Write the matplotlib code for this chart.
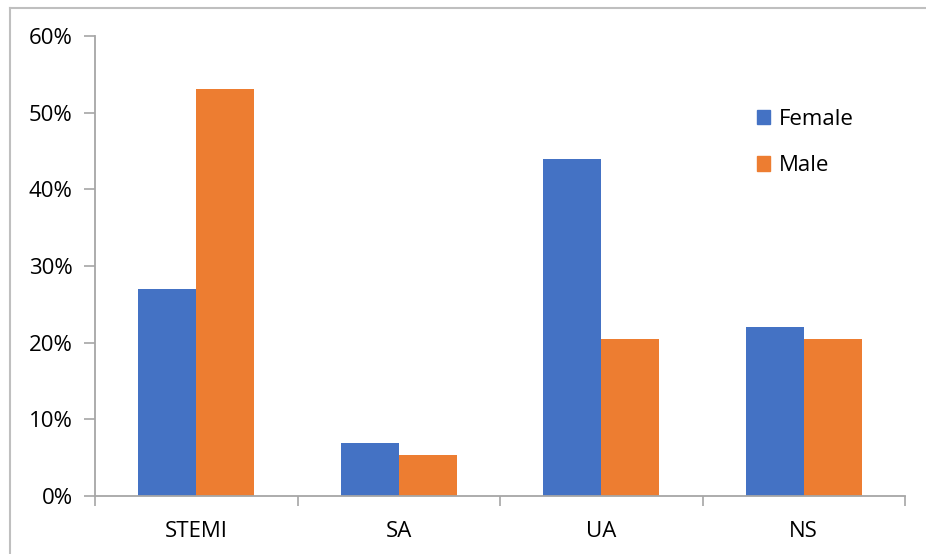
import matplotlib
matplotlib.use("Agg")
import matplotlib.pyplot as plt
from matplotlib.lines import Line2D
from matplotlib.patches import Patch
from matplotlib.ticker import FuncFormatter
import numpy as np

categories = ["STEMI", "SA", "UA", "NS"]
female = [27.0, 6.9, 43.9, 22.0]
male = [53.1, 5.3, 20.5, 20.5]
series_names = ["Female", "Male"]

BLUE = "#4472C4"
ORANGE = "#ED7D31"
AXIS = "#A6A6A6"

plt.rcParams["font.family"] = ["Open Sans", "DejaVu Sans"]
FS = 16

fig = plt.figure(figsize=(9.26, 5.54), dpi=100)
W, H = 926, 554
ax = fig.add_axes([95 / W, 1 - 496 / H, (905 - 95) / W, (496 - 36) / H])

x = np.arange(len(categories))
bw = 0.286
ax.bar(x - bw / 2, female, bw, color=BLUE, label=series_names[0])
ax.bar(x + bw / 2, male, bw, color=ORANGE, label=series_names[1])

ax.set_xlim(-0.5, len(categories) - 0.5)
ax.set_ylim(0, 60)
ax.set_yticks(np.arange(0, 61, 10))
ax.yaxis.set_major_formatter(FuncFormatter(lambda v, p: f"{int(v)}%"))

ax.set_xticks(x)
ax.set_xticklabels(categories)
ax.set_xticks(np.arange(-0.5, len(categories), 1), minor=True)
ax.tick_params(axis="x", which="major", length=0, pad=18, labelsize=FS)
ax.tick_params(axis="x", which="minor", length=7, width=1.2, color=AXIS, direction="out")
ax.tick_params(axis="y", length=8, width=1.2, color=AXIS, pad=8, labelsize=FS)

for s in ["top", "right"]:
    ax.spines[s].set_visible(False)
for s in ["left", "bottom"]:
    ax.spines[s].set_color(AXIS)
    ax.spines[s].set_linewidth(1.3)

handles = [Patch(color=BLUE), Patch(color=ORANGE)]
ax.legend(handles, series_names, loc="upper left", bbox_to_anchor=(662 / 810, (496 - 109) / 460),
          frameon=False, fontsize=FS, handlelength=0.6, handleheight=0.6,
          handletextpad=0.4, labelspacing=1.14, borderpad=0, borderaxespad=0)

# outer frame (top and left edges)
fig.add_artist(Line2D([10 / W, 1], [1 - 8 / H, 1 - 8 / H], color="#BFBFBF", lw=1.5))
fig.add_artist(Line2D([10 / W, 10 / W], [0, 1 - 8 / H], color="#BFBFBF", lw=1.5))

fig.savefig("out.png", dpi=100)
